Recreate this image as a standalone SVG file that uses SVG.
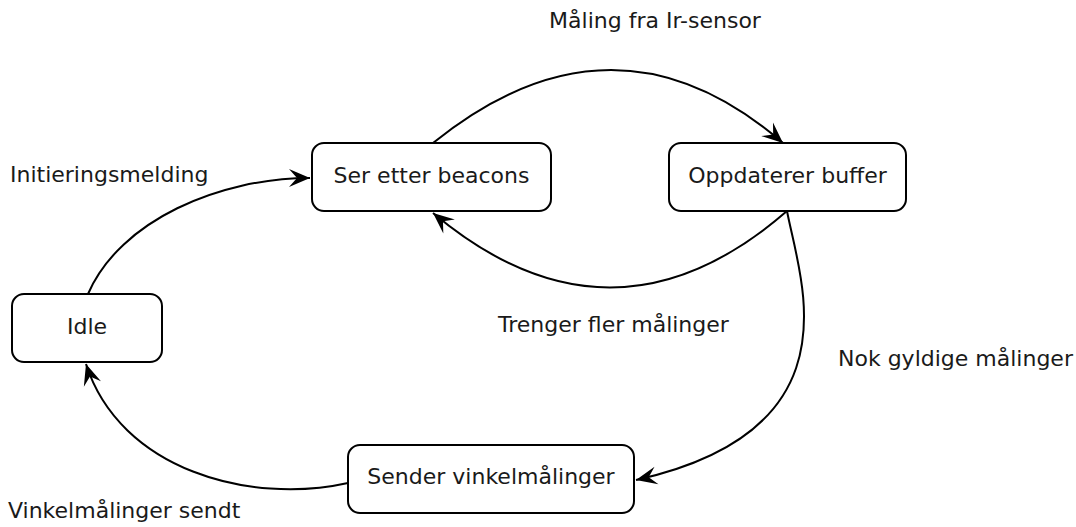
<svg xmlns="http://www.w3.org/2000/svg" width="1076" height="527" viewBox="0 0 1076 527">
<style>
.node rect{fill:#fff;stroke:#000;stroke-width:2}
text{font-family:"DejaVu Sans","Liberation Sans",sans-serif;font-size:22px;fill:#1a1a1a}
.c{text-anchor:middle}
.edge{fill:none;stroke:#000;stroke-width:2;marker-end:url(#ah)}
</style>
<defs>
<marker id="ah" markerUnits="userSpaceOnUse" viewBox="-22 -11 24 22" refX="0" refY="0" markerWidth="24" markerHeight="22" orient="auto">
<path d="M0,0 L-21,-9 L-13,0 L-21,9 Z" fill="#000"/>
</marker>
</defs>
<rect width="1076" height="527" fill="#fff"/>
<g id="connectors">
<path class="edge" d="M433,143 Q614,-3 783,143"/>
<path class="edge" d="M787,211 Q612,363 433,213"/>
<path class="edge" d="M787,211 C800,280 860,430 636,480"/>
<path class="edge" d="M348,483 C250,505 120,470 86,364"/>
<path class="edge" d="M88,294 C120,220 220,178 310,178"/>
</g>
<g id="labels">
<text x="655" y="28" class="c">Måling fra Ir-sensor</text>
<text x="10" y="182">Initieringsmelding</text>
<text x="498" y="332">Trenger fler målinger</text>
<text x="838" y="366">Nok gyldige målinger</text>
<text x="8" y="518">Vinkelmålinger sendt</text>
</g>
<g id="node-ser" class="node">
<rect x="312" y="143" width="239" height="68" rx="12"/>
<text x="431.5" y="183" class="c">Ser etter beacons</text>
</g>
<g id="node-oppdaterer" class="node">
<rect x="669" y="143" width="237" height="68" rx="12"/>
<text x="787.5" y="183" class="c">Oppdaterer buffer</text>
</g>
<g id="node-idle" class="node">
<rect x="12" y="294" width="150" height="68" rx="12"/>
<text x="87" y="334" class="c">Idle</text>
</g>
<g id="node-sender" class="node">
<rect x="348" y="445" width="286" height="68" rx="12"/>
<text x="491" y="484" class="c">Sender vinkelmålinger</text>
</g>
</svg>
